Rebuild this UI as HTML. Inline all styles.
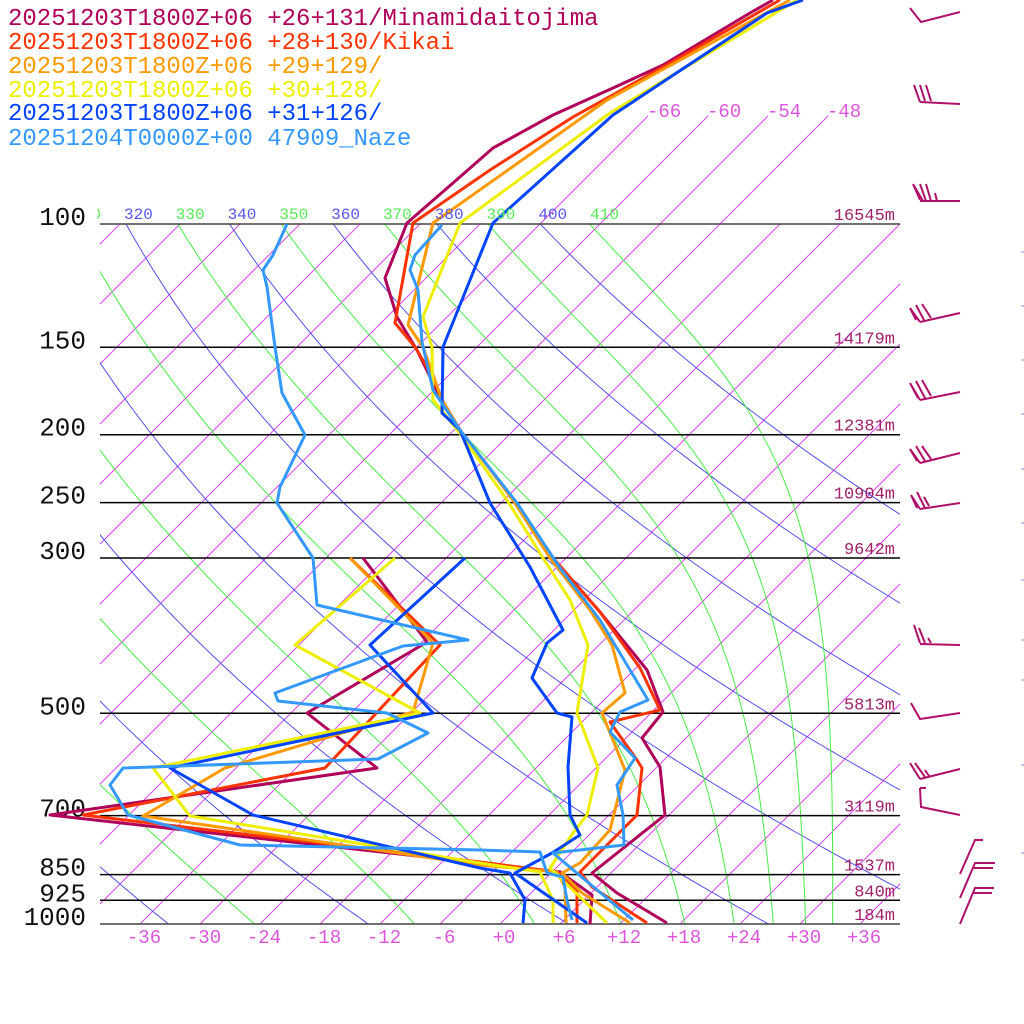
<!DOCTYPE html>
<html><head><meta charset="utf-8">
<style>
html,body{margin:0;padding:0;background:#fff;}
svg{display:block;}
text{font-family:"Liberation Mono",monospace;}
</style></head>
<body>
<svg id="s" xmlns="http://www.w3.org/2000/svg" width="1024" height="1024" viewBox="0 0 1024 1024">
<defs>
<clipPath id="pc"><rect x="100" y="224" width="800" height="700"/></clipPath>
<clipPath id="lc"><rect x="97" y="190" width="810" height="40"/></clipPath>
</defs>
<rect width="1024" height="1024" fill="#fff"/>
<g id="grid" clip-path="url(#pc)"></g>
<g id="ext"></g>
<g id="lev"></g>
<g id="snd" fill="none" stroke-width="3" stroke-linejoin="round"></g>
<g id="barbs" fill="none" stroke="#b0106a" stroke-width="2"></g>
<g font-size="24">
<text x="8" y="25" fill="#b0005a">20251203T1800Z+06 +26+131/Minamidaitojima</text>
<text x="8" y="49" fill="#ff3300">20251203T1800Z+06 +28+130/Kikai</text>
<text x="8" y="73" fill="#ff9900">20251203T1800Z+06 +29+129/</text>
<text x="8" y="97" fill="#eeee00">20251203T1800Z+06 +30+128/</text>
<text x="8" y="120" fill="#0044ff">20251203T1800Z+06 +31+126/</text>
<text x="8" y="145" fill="#3399ff">20251204T0000Z+00 47909_Naze</text>
</g>
</svg>
<script>
var NS="http://www.w3.org/2000/svg";
function el(p,t,a,txt){var e=document.createElementNS(NS,t);for(var k in a)e.setAttribute(k,a[k]);if(txt!=null)e.textContent=txt;p.appendChild(e);return e;}
function Y(p){return 924-304*Math.log(1000/p);}
function X(T,y){return 500+10*T+(924-y);}
var grid=document.getElementById('grid');
for(var T=-150;T<=40;T+=6){
  el(grid,'line',{x1:X(T,924),y1:924,x2:X(T,224),y2:224,stroke:'#dd44ee','stroke-width':1});
}
var ext=document.getElementById('ext');
[-66,-60,-54,-48].forEach(function(T){
  el(ext,'line',{x1:X(T,224),y1:224,x2:X(T,116),y2:116,stroke:'#dd44ee','stroke-width':1});
  el(ext,'text',{x:X(T,116)-1,y:117,'font-size':19,fill:'#dd55dd'},(''+T));
});
var pts;
for(var th=200;th<=400;th+=20){
  pts=[];
  for(var p=1000;p>=95;p-=5){var y=Y(p);var t=th*Math.pow(p/1000,0.2857)-273.15;pts.push(X(t,y).toFixed(1)+','+y.toFixed(1));}
  el(grid,'polyline',{points:pts.join(' '),fill:'none',stroke:'#5050ee','stroke-width':1});
}
function es(Tk){var t=Tk-273.15;return 6.112*Math.exp(17.67*t/(t+243.5));}
function the(Tk,p){var e=es(Tk);var r=0.622*e/(p-e);return Tk*Math.pow(1000/p,0.2857)*Math.exp(2.675e6*r/(1004*Tk));}
for(var te=210;te<=410;te+=20){
  pts=[];
  for(var p=1000;p>=95;p-=5){
    var lo=120,hi=330;
    for(var i=0;i<40;i++){var m=(lo+hi)/2;if(the(m,p)>te)hi=m;else lo=m;}
    var y=Y(p);pts.push(X(lo-273.15,y).toFixed(1)+','+y.toFixed(1));
  }
  el(grid,'polyline',{points:pts.join(' '),fill:'none',stroke:'#44ee44','stroke-width':1});
}
var lg=el(document.getElementById('s'),'g',{'clip-path':'url(#lc)','font-size':16});
for(var th=310;th<=410;th+=10){
  var t=th/Math.pow(10,0.2857)-273.15;
  el(lg,'text',{x:X(t,224)-2,y:219,fill:(th%20==0?'#5555ee':'#55ee55')},''+th);
}
var lev=document.getElementById('lev');
var L=[[100,'16545m'],[150,'14179m'],[200,'12381m'],[250,'10904m'],[300,'9642m'],[500,'5813m'],[700,'3119m'],[850,'1537m'],[925,'840m'],[1000,'184m']];
L.forEach(function(a){var y=Y(a[0]);
  el(lev,'line',{x1:100,y1:y,x2:900,y2:y,stroke:(a[0]==100||a[0]==1000?'#444':'#000'),'stroke-width':1.5});
  el(lev,'text',{x:86,y:y+1,'font-size':26,fill:'#111','text-anchor':'end'},''+a[0]);
  el(lev,'text',{x:895,y:y-4,'font-size':17,fill:'#a0206a','text-anchor':'end'},a[1]);
});
for(var T=-36;T<=36;T+=6){
  el(lev,'text',{x:500+10*T+4,y:943,'font-size':19,fill:'#dd55dd','text-anchor':'middle'},(T>=0?'+':'')+T);
}
var S=[
['#b0005a',[[773,0],[750,13],[663,65],[613,88],[553,115],[493,148],[453,183],[407,223],[385,278],[397,317],[417,350],[433,383],[442,400],[460,430],[493,473],[513,500],[553,558],[600,612],[647,670],[663,712],[642,738],[660,767],[665,815],[592,873],[617,893],[667,923]],
 [[363,558],[427,642],[307,713],[377,768],[50,815],[480,863],[560,872],[592,895],[590,924]]],
['#ff3300',[[780,0],[663,67],[573,117],[490,170],[413,223],[395,323],[415,347],[433,377],[442,400],[460,430],[493,473],[513,500],[553,558],[600,612],[640,668],[660,710],[610,722],[637,760],[642,768],[637,815],[580,872],[592,887],[647,923]],
 [[350,558],[440,645],[325,768],[83,815],[480,862],[557,872],[577,890],[577,923]]],
['#ff9900',[[790,0],[607,100],[433,223],[408,325],[423,347],[442,400],[460,430],[493,473],[513,500],[550,558],[590,610],[612,645],[625,693],[602,713],[625,770],[610,830],[580,863],[562,873],[582,893],[630,923]],
 [[350,558],[433,643],[413,712],[225,768],[143,816],[480,865],[557,872],[565,887],[566,923]]],
['#eeee00',[[797,0],[610,113],[460,223],[423,317],[432,347],[433,400],[460,433],[507,500],[543,558],[570,600],[588,645],[577,713],[598,768],[587,815],[573,833],[550,868],[607,923]],
 [[395,558],[295,645],[420,713],[153,768],[190,816],[480,863],[540,872],[553,900],[553,923]]],
['#0044ff',[[803,0],[767,13],[613,115],[493,223],[443,347],[442,413],[460,430],[490,503],[530,567],[563,630],[547,643],[532,678],[557,713],[572,717],[568,767],[570,815],[580,835],[552,853],[515,873],[587,923]],
 [[465,558],[370,645],[433,713],[170,768],[253,815],[480,868],[510,873],[525,900],[523,923]]],
['#3399ff',[[442,225],[415,255],[410,270],[418,290],[422,342],[433,390],[460,430],[517,503],[560,568],[600,620],[648,700],[620,712],[610,732],[635,758],[617,785],[623,815],[624,845],[553,853],[633,920]],
 [[287,224],[273,255],[263,270],[267,287],[275,347],[282,393],[305,435],[280,487],[277,503],[313,558],[317,605],[468,640],[403,646],[275,693],[278,701],[387,713],[428,733],[378,759],[123,768],[110,785],[128,815],[240,845],[480,850],[540,852],[547,873],[563,877],[567,900],[572,920]]]
];
var snd=document.getElementById('snd');
S.forEach(function(s){
  el(snd,'polyline',{points:s[1].join(' '),stroke:s[0]});
  el(snd,'polyline',{points:s[2].join(' '),stroke:s[0]});
});
var B=[
'M910 8 L921 22 L960 12',
'M920 102 L960 104 M914 85 L920 102 M920 85 L925 101 M926 85 L931 101',
'M920 201 L960 201 M913 184 L923 201 M913 184 L920 200 M920 184 L926 201 M926 184 L931 201 M935 193 L937 201',
'M920 322 L960 313 M910 308 L920 322 M910 308 L916 320 M916 305 L924 320 M922 304 L931 318',
'M920 400 L960 392 M910 383 L920 400 M910 383 L918 398 M916 381 L925 398 M922 380 L931 396',
'M920 463 L960 453 M910 449 L920 463 M910 449 L917 461 M916 446 L925 461 M922 446 L931 459',
'M920 509 L960 503 M911 495 L920 509 M911 495 L917 508 M917 492 L925 508 M924 497 L929 506',
'M920 644 L960 645 M914 625 L920 643 M919 628 L925 643 M928 638 L931 643',
'M911 703 L920 719 L960 713',
'M920 779 L960 769 M910 763 L920 779 M915 763 L925 777 M925 770 L929 776',
'M920 788 L921 807 L960 815 M920 788 L926 788',
'M960 874 L975 840 L983 840',
'M960 898 L975 863 L995 863 M974 868 L993 868',
'M960 924 L975 888 L994 888 M973 893 L992 893'
];
var bg=document.getElementById('barbs');
B.forEach(function(d){el(bg,'path',{d:d});});
[252,306,360,414,469,523,580,640,680,765,853].forEach(function(y){el(bg,'line',{x1:1021,y1:y,x2:1024,y2:y,stroke:'#8888cc','stroke-width':1});});
</script>
</body></html>
